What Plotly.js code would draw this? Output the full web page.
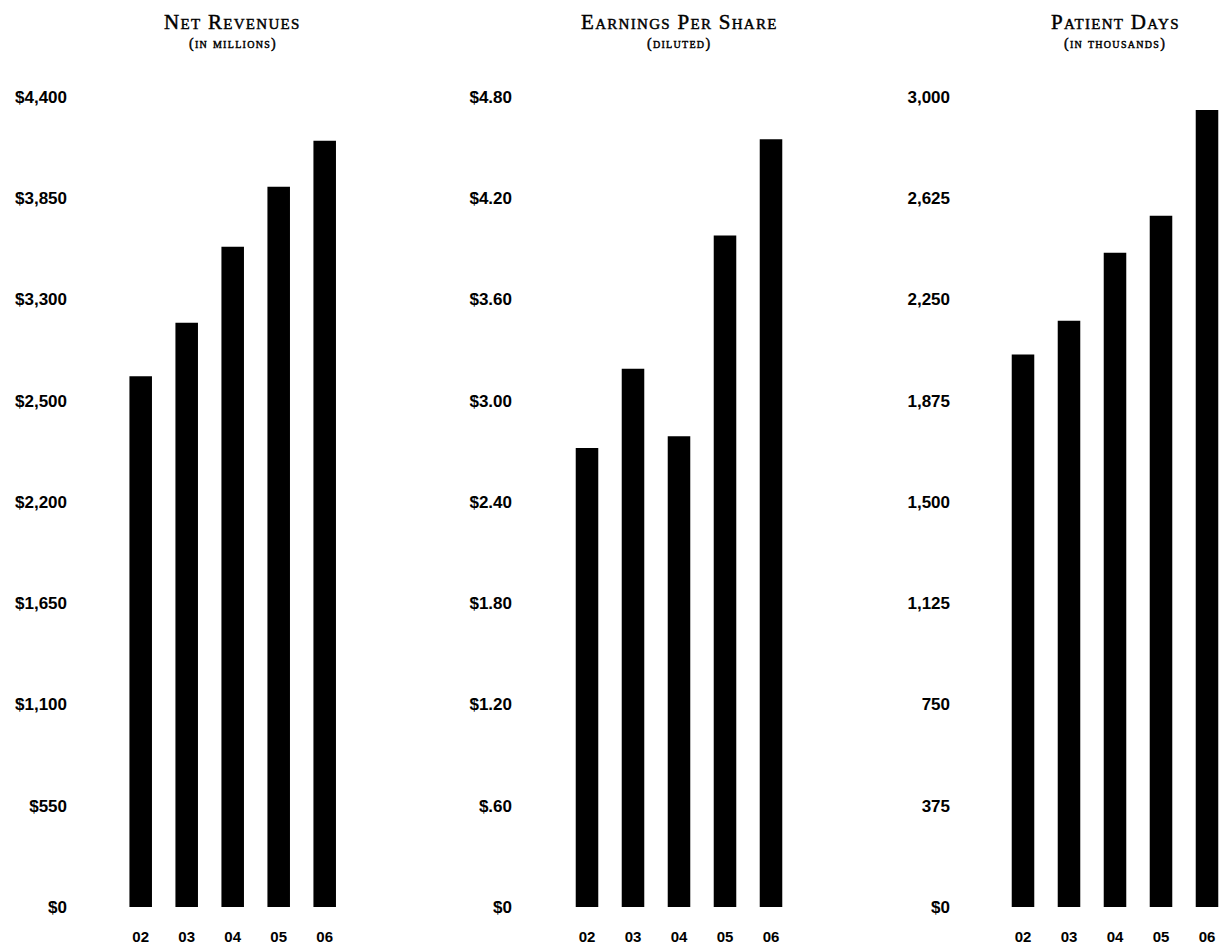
<!DOCTYPE html>
<html><head><meta charset="utf-8">
<script src="https://cdn.plot.ly/plotly-3.0.1.min.js"></script>
<style>
html,body{margin:0;padding:0;background:#fff;}
#chart{width:1221px;height:946px;}
.annotation-text{letter-spacing:1.3px; stroke:#000; stroke-width:0.45px;}
</style></head><body><div id="chart"></div>
<script>
// ---- data ----
const years = ["02","03","04","05","06"];
const netRevenues = [2883, 3174, 3586, 3913, 4163];
const eps = [2.72, 3.19, 2.79, 3.98, 4.55];
const patientDays = [2046, 2171, 2423, 2560, 2952];

const revTickVals = [0,550,1100,1650,2200,2750,3300,3850,4400];
const revTickText = ["$0","$550","$1,100","$1,650","$2,200","$2,500","$3,300","$3,850","$4,400"];
const epsTickVals = [0,0.6,1.2,1.8,2.4,3.0,3.6,4.2,4.8];
const epsTickText = ["$0","$.60","$1.20","$1.80","$2.40","$3.00","$3.60","$4.20","$4.80"];
const pdTickVals = [0,375,750,1125,1500,1875,2250,2625,3000];
const pdTickText = ["$0","375","750","1,125","1,500","1,875","2,250","2,625","3,000"];

const titles = ["Net Revenues","Earnings Per Share","Patient Days"];
const subtitles = ["(in millions)","(diluted)","(in thousands)"];

// ---- layout helpers (pixels) ----
const W = 1221, H = 946;
const step = 46;
const panels = [
  {left: 68,  right: 352, first: 140.7},
  {left: 513, right: 800, first: 587},
  {left: 951, right: 1221, first: 1023}
];
const yBottom = 907, yTop = 97;
const series = [netRevenues, eps, patientDays];
const tickVals = [revTickVals, epsTickVals, pdTickVals];
const tickTexts = [revTickText, epsTickText, pdTickText];

const tickFont = {family: "'Liberation Sans', Arial, sans-serif", size: 17, color: "#000", weight: 700};
const xFont = {family: "'Liberation Sans', Arial, sans-serif", size: 15, color: "#000", weight: 700};
const serif = "'Liberation Serif', 'DejaVu Serif', serif";

const data = [];
const layout = {
  width: W, height: H,
  margin: {l: 0, r: 0, t: 0, b: 0},
  paper_bgcolor: "#fff", plot_bgcolor: "rgba(0,0,0,0)",
  showlegend: false,
  annotations: []
};

panels.forEach((p, i) => {
  const sfx = i === 0 ? "" : String(i + 1);
  data.push({
    type: "bar", x: years, y: series[i],
    xaxis: "x" + sfx, yaxis: "y" + sfx,
    marker: {color: "#000", line: {width: 0}},
    width: 0.49, hoverinfo: "skip"
  });
  const lastCenter = p.first + 4 * step;
  layout["xaxis" + sfx] = {
    type: "category",
    domain: [p.left / W, p.right / W],
    range: [-(p.first - p.left) / step, 4 + (p.right - lastCenter) / step],
    anchor: "y" + sfx,
    showgrid: false, zeroline: false, showline: false, ticks: "",
    tickfont: xFont, ticklabelstandoff: 19, fixedrange: true
  };
  const vals = tickVals[i];
  layout["yaxis" + sfx] = {
    domain: [(H - yBottom) / H, (H - yTop) / H],
    range: [0, vals[vals.length - 1]],
    anchor: "x" + sfx,
    tickmode: "array", tickvals: vals, ticktext: tickTexts[i],
    showgrid: false, zeroline: false, showline: false, ticks: "",
    tickfont: tickFont, fixedrange: true
  };
  layout.annotations.push({
    xref: "x" + sfx, yref: "paper", x: 2, y: (H - 22) / H,
    text: titles[i], showarrow: false, xanchor: "center", yanchor: "middle",
    font: {family: serif, size: 21, color: "#000", variant: "small-caps"}
  });
  layout.annotations.push({
    xref: "x" + sfx, yref: "paper", x: 2, y: (H - 44) / H,
    text: subtitles[i], showarrow: false, xanchor: "center", yanchor: "middle",
    font: {family: serif, size: 14, color: "#000", variant: "small-caps"}
  });
});

Plotly.newPlot("chart", data, layout, {displayModeBar: false, staticPlot: true});
</script></body></html>
